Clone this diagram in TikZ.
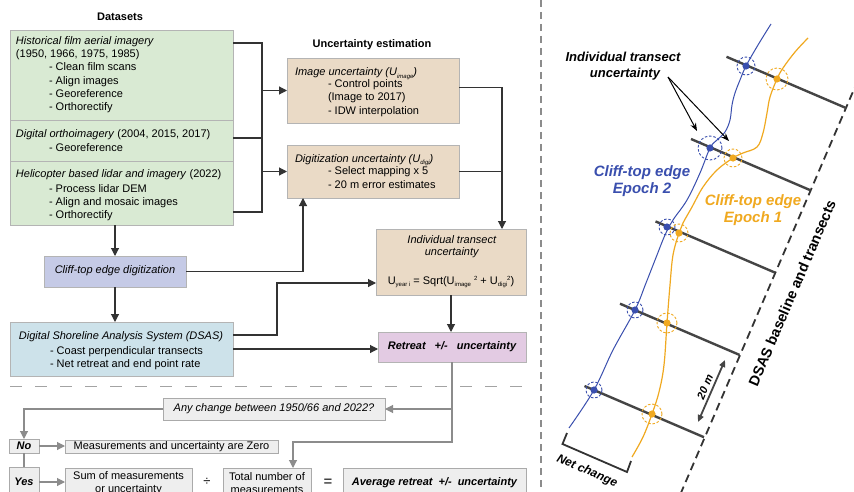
\documentclass[tikz,border=0pt]{standalone}
\usepackage{fontspec}
\setmainfont{Liberation Sans}
\usetikzlibrary{arrows.meta,calc}
\newcommand\mysub[1]{\raisebox{-2.5pt}{\fontsize{6}{6}\selectfont #1}}
\newcommand\mysup[1]{\raisebox{4pt}{\fontsize{6}{6}\selectfont #1}}
\definecolor{gfill}{HTML}{D9EAD3}
\definecolor{tfill}{HTML}{EADAC6}
\definecolor{bfill}{HTML}{C5CAE6}
\definecolor{cfill}{HTML}{CDE2EA}
\definecolor{pfill}{HTML}{E3CBE3}
\definecolor{bord}{HTML}{B4B4B4}
\definecolor{lgfill}{HTML}{EEEEEE}
\definecolor{lgbord}{HTML}{AAAAAA}
\definecolor{conn}{HTML}{333333}
\definecolor{gconn}{HTML}{8C8C8C}
\definecolor{epblue}{HTML}{3A4FAE}
\definecolor{eporange}{HTML}{F0A920}
\definecolor{transc}{HTML}{454545}
\begin{document}
\begin{tikzpicture}[x=1pt,y=-1pt,
  every node/.style={font=\fontsize{11}{13.3}\selectfont},
  box/.style={draw=bord, line width=0.9pt, inner sep=0pt, outer sep=0pt, anchor=north west},
  gbox/.style={draw=lgbord, line width=0.9pt, fill=lgfill, inner sep=0pt, outer sep=0pt, anchor=north west, align=center},
  lbl/.style={inner sep=0pt, outer sep=0pt, anchor=base west},
  clbl/.style={inner sep=0pt, outer sep=0pt, anchor=center, align=center},
  ln/.style={draw=conn, line width=1.1pt},
  arr/.style={ln, -{Triangle[length=8pt,width=8pt]}},
  gln/.style={draw=gconn, line width=1.1pt},
  garr/.style={gln, -{Triangle[length=8pt,width=8pt]}},
  transect/.style={draw=transc, line width=2.4pt},
  ring/.style={dashed, dash pattern=on 2.5pt off 1.8pt, line width=0.9pt},
]
\useasboundingbox (0,0) rectangle (854,492);
\clip (0,0) rectangle (854,492);
\fill[white] (0,0) rectangle (854,492);

% ---------- boxes ----------
\node[box, fill=gfill, minimum width=223pt, minimum height=90pt] (hist) at (10,30) {};
\node[box, fill=gfill, minimum width=223pt, minimum height=41pt] (ortho) at (10,120) {};
\node[box, fill=gfill, minimum width=223pt, minimum height=64pt] (heli) at (10,161) {};
\node[box, fill=tfill, minimum width=172pt, minimum height=65pt] (imgU) at (287,58) {};
\node[box, fill=tfill, minimum width=172pt, minimum height=53pt] (digU) at (287,145) {};
\node[box, fill=tfill, minimum width=150pt, minimum height=66pt] (indU) at (376,229) {};
\node[box, fill=pfill, minimum width=148pt, minimum height=30pt] (retr) at (378,332) {};
\node[box, fill=bfill, minimum width=142pt, minimum height=31pt] (cliff) at (44,256) {};
\node[box, fill=cfill, minimum width=223pt, minimum height=54pt] (dsas) at (10,322) {};

% ---------- titles ----------
\node[clbl, font=\fontsize{11}{13}\selectfont\bfseries] (tDat) at (120,17) {Datasets};
\node[clbl, font=\fontsize{11}{13}\selectfont\bfseries] (tUnc) at (372,45) {Uncertainty estimation};

% ---------- green box texts ----------
\node[lbl] (h1) at (16,45) {\textit{Historical film aerial imagery}};
\node[lbl] (h2) at (16,58) {(1950, 1966, 1975, 1985)};
\node[lbl] (h3) at (49,71) {- Clean film scans};
\node[lbl] (h4) at (49,85) {- Align images};
\node[lbl] (h5) at (49,98) {- Georeference};
\node[lbl] (h6) at (49,111) {- Orthorectify};
\node[lbl] (o1) at (16,138) {\textit{Digital orthoimagery} (2004, 2015, 2017)};
\node[lbl] (o2) at (49,152) {- Georeference};
\node[lbl] (e1) at (16,178) {\textit{Helicopter based lidar and imagery} (2022)};
\node[lbl] (e2) at (49,192) {- Process lidar DEM};
\node[lbl] (e3) at (49,205) {- Align and mosaic images};
\node[lbl] (e4) at (49,218) {- Orthorectify};

% ---------- uncertainty texts ----------
\node[lbl] (i1) at (295,76) {\textit{Image uncertainty (U\mysub{image})}};
\node[lbl] (i2) at (328,88) {- Control points};
\node[lbl] (i3) at (328,101) {(Image to 2017)};
\node[lbl] (i4) at (328,115) {- IDW interpolation};
\node[lbl] (d1) at (295,162) {\textit{Digitization uncertainty (U\mysub{digi})}};
\node[lbl] (d2) at (328,175) {- Select mapping x 5};
\node[lbl] (d3) at (328,188) {- 20 m error estimates};
\node[clbl] (n1) at (452,240) {\textit{Individual transect}};
\node[clbl] (n2) at (452,253) {\textit{uncertainty}};
\node[clbl] (n3) at (451,282) {U\mysub{year i} = Sqrt(U\mysub{image}\ \mysup{2} + U\mysub{digi}\mysup{2})};
\node[clbl, font=\fontsize{11}{13}\selectfont\bfseries\itshape] (r1) at (452,347) {Retreat\hspace{9pt}+/-\hspace{9pt}uncertainty};
\node[clbl] (c1) at (115,271) {\textit{Cliff-top edge digitization}};
\node[clbl] (s1) at (121,337) {\textit{Digital Shoreline Analysis System (DSAS)}};
\node[lbl] (s2) at (50,354) {- Coast perpendicular transects};
\node[lbl] (s3) at (50,367) {- Net retreat and end point rate};

% ---------- connectors (top) ----------
\coordinate (jx) at ($(hist.east)+(29,0)$);
\draw[ln] ($(hist.north east)+(0,13)$) -| ($(heli.south east)+(29,-13)$) -- ($(heli.south east)+(0,-13)$);
\draw[ln] ($(ortho.north east)+(0,18)$) -- ($(ortho.north east)+(29,18)$);
\draw[arr] (imgU.west -| jx) -- (imgU.west);
\draw[arr] (digU.west -| jx) -- (digU.west);
\draw[arr] (cliff.north |- heli.south) -- (cliff.north);
\draw[arr] (cliff.south) -- (cliff.south |- dsas.north);
\draw[arr] (cliff.east) -| ($(digU.south west)+(16,0)$);
\coordinate (indIn) at ($(indU.north)+(51,0)$);
\draw[arr] ($(imgU.east)+(0,-3)$) -| (indIn);
\draw[ln] (digU.east) -- (digU.east -| indIn);
\draw[arr] ($(dsas.north east)+(0,13)$) -- ++(44,0) |- ($(indU.west)+(0,21)$);
\draw[arr] (dsas.east) -- (dsas.east -| retr.west);
\draw[arr] (indU.south) -- (indU.south |- retr.north);

% ---------- separators ----------
\draw[draw=gconn!80, line width=1pt, dash pattern=on 12pt off 13pt] (10,386) -- (534,386);
\draw[draw=gconn, line width=1.3pt, dash pattern=on 7pt off 5pt] (541,0) -- (541,492);

% ---------- bottom section ----------
\node[gbox, minimum width=222pt, minimum height=22pt] (anyc) at (163,398) {\textit{Any change between 1950/66 and 2022?}};
\node[gbox, minimum width=30pt, minimum height=14pt, font=\fontsize{11}{13}\selectfont\bfseries\itshape] (no) at (9,439) {No};
\node[gbox, minimum width=213pt, minimum height=13pt] (meas) at (65,440) {Measurements and uncertainty are Zero};
\node[gbox, minimum width=30pt, minimum height=30pt, font=\fontsize{11}{13}\selectfont\bfseries\itshape] (yes) at (9,467) {Yes};
\node[gbox, minimum width=127pt, minimum height=30pt] (sum) at (65,468) {Sum of measurements\\or uncertainty};
\node[gbox, minimum width=88pt, minimum height=30pt] (total) at (223,468) {Total number of\\measurements};
\node[gbox, minimum width=183pt, minimum height=30pt, font=\fontsize{11}{13}\selectfont\bfseries\itshape] (avg) at (343,468) {Average retreat\hspace{6pt}+/-\hspace{6pt}uncertainty};
\node[clbl, font=\fontsize{13}{13}\selectfont] (divs) at (207,482) {÷};
\node[clbl, font=\fontsize{15}{15}\selectfont] (eqs) at (328,483) {=};

\draw[garr] (retr.south |- anyc.east) -- (anyc.east);
\draw[garr] (retr.south) -- ++(0,80) -| ($(total.north)+(26,0)$);
\draw[garr] (anyc.west) -| (no.north);
\draw[gln] (no.south) -- (yes.north);
\draw[garr] (no.east) -- (no.east -| meas.west);
\draw[garr] (yes.east) -- (yes.east -| sum.west);

% ---------- right panel ----------
% baseline
\draw[draw=conn, line width=1.8pt, dash pattern=on 8pt off 5pt] (857.8,80.4) -- (678.5,498.6);
% transects
\draw[transect] (726.5,56.8) -- (846,108);
\draw[transect] (691,139) -- (810.5,190.3);
\draw[transect] (655.5,221.4) -- (775,272.6);
\draw[transect] (620,303.7) -- (739.5,354.9);
\draw[transect] (584.5,386) -- (704,437.2);
% curves
\draw[epblue, line width=1pt] plot[smooth, tension=0.6] coordinates {(771,24) (758,45) (746,66) (740,80) (735,93) (732,105) (730,120) (725,132) (717,140) (710,148) (700,173) (687,200) (673,220) (665,235) (657,255) (646,283) (635,310) (613,350) (594,390) (569,428)};
\draw[eporange, line width=1.2pt] plot[smooth, tension=0.6] coordinates {(808,38) (795,52) (783,68) (777,79) (770,97) (767,113) (763,133) (757,147) (743,153) (733,158) (717,170) (703,187) (692,207) (683,223) (679,233) (673,255) (670,285) (667,323) (664,365) (659,392) (652,414) (643,437) (632,457)};
% points and rings
\foreach \p/\r in {{746,66}/9, {710,148}/12, {667,227}/8, {635,310}/8, {594,390}/8} {
  \fill[epblue] (\p) circle (3.6pt);
  \draw[epblue, ring] (\p) circle (\r pt);
}
\foreach \p/\r in {{777,79}/11, {733,158}/9, {679,233}/9, {667,323}/10, {652,414}/10} {
  \fill[eporange] (\p) circle (3.6pt);
  \draw[eporange, ring] (\p) circle (\r pt);
}
% labels
\node[clbl, font=\fontsize{13}{16}\selectfont\bfseries\itshape] (itu) at (623,66) {Individual transect\\\hspace*{4pt}uncertainty};
\coordinate (ituArr) at (668,77);
\draw[line width=1pt, -{Stealth[length=8pt,width=6pt]}] (ituArr) -- (697,131);
\draw[line width=1pt, -{Stealth[length=8pt,width=6pt]}] (ituArr) -- (729,141);
\node[clbl, text=epblue, font=\fontsize{15}{17}\selectfont\bfseries\itshape] (ep2) at (642,181) {Cliff-top edge\\Epoch 2};
\node[clbl, text=eporange, font=\fontsize{15}{17}\selectfont\bfseries\itshape] (ep1) at (753,210) {Cliff-top edge\\Epoch 1};
\node[clbl, rotate=66.8, font=\fontsize{14.5}{16}\selectfont\bfseries] (dsasl) at (792,293) {DSAS baseline and transects};
\draw[draw=transc, line width=1.8pt, {Triangle[length=7pt,width=6pt]}-{Triangle[length=7pt,width=6pt]}] (698,422) -- (725,360);
\node[clbl, rotate=66.8, font=\fontsize{11}{12}\selectfont\bfseries\itshape] (twenty) at (705,387) {20 m};
\draw[draw=conn, line width=1.8pt] (567,433) -- (562.5,444) -- (627,472) -- (631,461);
\node[clbl, rotate=-23.4, font=\fontsize{12}{13}\selectfont\bfseries\itshape] (netc) at (587,471) {Net change};
\end{tikzpicture}
\end{document}
